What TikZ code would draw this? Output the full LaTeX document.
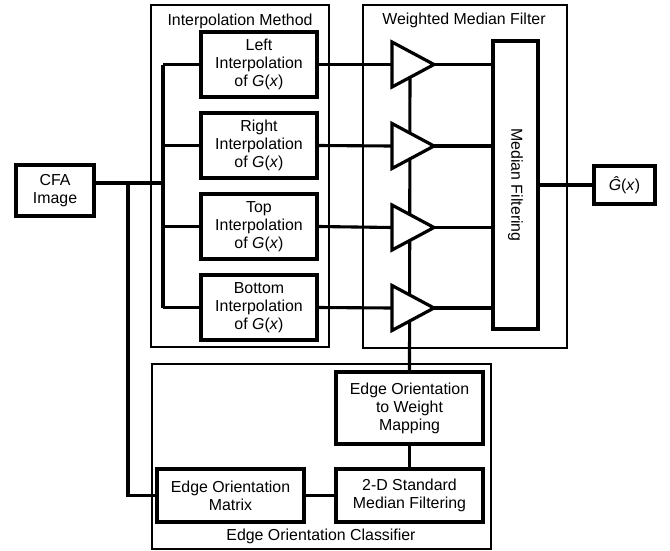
\documentclass[tikz,border=0pt]{standalone}
\usepackage{fontspec}
\setmainfont{Liberation Sans}
\begin{document}
\begin{tikzpicture}[x=1pt,y=-1pt,
  every node/.style={font=\fontsize{15.9}{18}\selectfont},
  blk/.style={draw,line width=3.2pt,inner sep=0pt,align=center},
  grp/.style={draw,line width=1.4pt},
  wire/.style={line width=3.1pt},
  amp/.style={draw,line width=3.2pt,fill=white,line join=miter}]
\useasboundingbox (0,0) rectangle (670,550);
% group frames
\draw[grp] (151,5) rectangle (329,347);
\draw[grp] (363,5) rectangle (567,348);
\draw[grp] (152,364) rectangle (491,549);
\node (tIM) at (240,21) {Interpolation Method};
\node (tWM) at (464,20) {Weighted Median Filter};
\node (tEC) at (321,536) {Edge Orientation Classifier};
% blocks
\node[blk,minimum width=78pt,minimum height=51pt] (cfa) at (55,190.5) {CFA\\Image};
\node[blk,minimum width=116pt,minimum height=65pt] (li) at (259,64.5) {Left\\Interpolation\\of \textit{G}(\textit{x})};
\node[blk,minimum width=116pt,minimum height=65pt] (ri) at (259,145.5) {Right\\Interpolation\\of \textit{G}(\textit{x})};
\node[blk,minimum width=116pt,minimum height=65pt] (ti) at (259,226.5) {Top\\Interpolation\\of \textit{G}(\textit{x})};
\node[blk,minimum width=116pt,minimum height=65pt] (bi) at (259,307.5) {Bottom\\Interpolation\\of \textit{G}(\textit{x})};
\node[blk,minimum width=45pt,minimum height=288pt] (med) at (515.5,185) {};
\node[rotate=-90] (medt) at (med.center) {Median Filtering};
\node[blk,minimum width=61pt,minimum height=38pt] (gh) at (624.5,185) {\textit{\^G}(\textit{x})};
\node[blk,minimum width=147pt,minimum height=72pt] (map) at (409.5,408) {Edge Orientation\\to Weight\\Mapping};
\node[blk,minimum width=147pt,minimum height=53pt] (sdm) at (409.5,495.5) {2-D Standard\\Median Filtering};
\node[blk,minimum width=147pt,minimum height=53pt] (eom) at (230.5,495.5) {Edge Orientation\\Matrix};
% coordinates
\coordinate (cfaout) at ([yshift=7.5pt]cfa.east);
\coordinate (bus) at (163,0);
\coordinate (drop) at (128,0);
\foreach \n/\y in {1/64.5,2/146,3/227.5,4/308}{
  \coordinate (a\n w) at (392,\y);
  \coordinate (a\n e) at (434,\y);
}
% wires
\draw[wire] (cfaout) -- (cfaout -| bus);
\draw[wire] (bus |- li.west) -- (bus |- bi.west);
\foreach \b in {li,ri,ti,bi}{\draw[wire] (bus |- \b.west) -- (\b.west);}
\draw[wire] (cfaout -| drop) -- (drop |- eom.west) -- (eom.west);
\draw[wire] (eom.east) -- (sdm.west);
\draw[wire] (sdm.north) -- (map.north |- map.south);
\draw[wire] (map.north) -- (410,64.5);
\draw[wire] (li.east) -- (a1w);
\draw[wire] (ri.east) -- (a2w);
\draw[wire] (ti.east) -- (a3w);
\draw[wire] (bi.east) -- (a4w);
\foreach \n in {1,2,3,4}{
  \draw[wire] (a\n e) -- (a\n e -| med.west);
  \draw[amp] ([yshift=-22.5pt]a\n w) -- (a\n e) -- ([yshift=22.5pt]a\n w) -- cycle;
}
\draw[wire] (med.east) -- (gh.west);
\end{tikzpicture}
\end{document}
